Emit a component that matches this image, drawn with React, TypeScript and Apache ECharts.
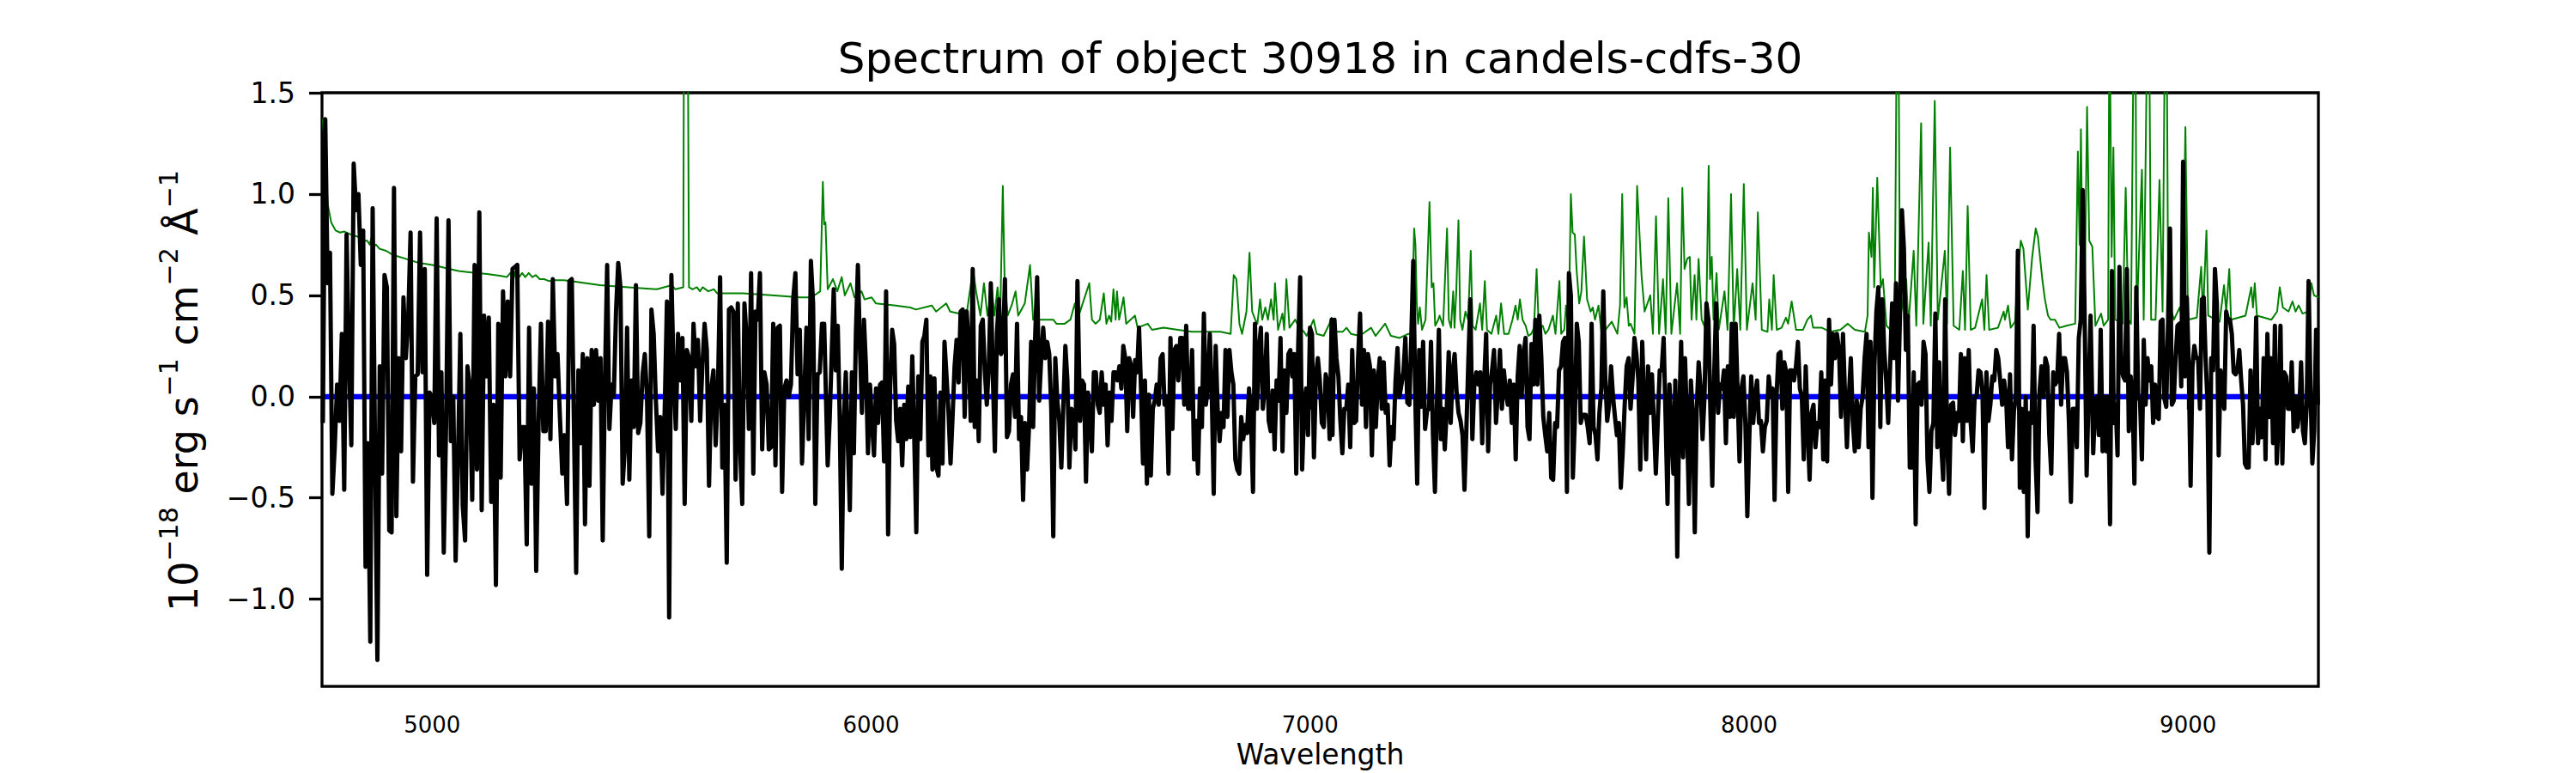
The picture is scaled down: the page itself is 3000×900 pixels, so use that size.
import React, { useEffect, useRef } from "react";
import * as echarts from "echarts";

// ---------------- data ----------------
const TITLE = "Spectrum of object 30918 in candels-cdfs-30";
const X_LABEL = "Wavelength";
const X_MIN = 4749;
const X_MAX = 9297;
const Y_MIN = -1.43;
const Y_MAX = 1.5;
const X_TICKS = [5000, 6000, 7000, 8000, 9000];
const Y_TICKS = [-1.0, -0.5, 0.0, 0.5, 1.0, 1.5];

// wavelength span covered by each flux segment
const SEG_START = [4751, 5328, 5901, 6476, 7051, 7628, 8205, 8784];
const SEG_END = [5318, 5893, 6470, 7049, 7621, 8200, 8778, 9296];

const FLUX_1 = [-0.13, 1.37, 0.56, 0.71, -0.48, -0.25, 0.06, -0.12, 0.31, -0.46, 0.8, 0.19, -0.24, 1.15, 0.92, 1.0, 0.65, 0.82, -0.84, -0.23, -1.21, 0.93, -0.25, -1.3, 0.15, -0.38, 0.6, 0.54, -0.66, -0.67, 1.03, -0.59, 0.19, -0.27, 0.49, 0.19, 0.38, 0.81, -0.42, 0.1, 0.11, 0.81, 0.12, 0.63, -0.88, 0.02, 0.0, -0.13, 0.88, -0.29, 0.12, -0.77, -0.13, 0.87, -0.22, 0.0, -0.81, -0.31, 0.31, -0.54, -0.71, 0.15, 0.05, -0.51, 0.65, -0.36, 0.91, -0.56, 0.4, 0.1, 0.39, -0.52, -0.04, -0.93, 0.36, -0.4, 0.52, 0.1, 0.47, 0.1, 0.63, 0.64, 0.65, -0.31, -0.15, -0.15, -0.73, 0.34, -0.43, 0.04, -0.86, -0.13, 0.36, -0.17, -0.17, 0.37, -0.21, 0.58, 0.1, 0.21, -0.1, -0.38, -0.19, -0.53, 0.57, 0.58];
const FLUX_2 = [-0.87, 0.13, -0.23, 0.21, -0.63, 0.19, -0.44, 0.23, -0.04, 0.23, -0.02, 0.19, -0.71, 0.08, 0.65, -0.16, 0.06, 0.0, 0.42, 0.66, 0.54, -0.43, -0.25, 0.34, -0.41, 0.08, -0.15, 0.55, -0.18, -0.13, 0.11, 0.21, 0.0, -0.69, 0.43, 0.31, -0.02, -0.27, -0.1, -0.48, -0.06, 0.47, -1.09, 0.6, 0.12, -0.16, 0.31, 0.08, 0.29, -0.53, 0.23, 0.19, -0.12, 0.36, 0.15, 0.28, -0.12, 0.15, 0.36, 0.23, -0.44, 0.04, 0.13, -0.24, 0.02, 0.59, -0.35, -0.04, -0.82, 0.43, 0.44, 0.42, -0.41, 0.46, -0.25, -0.53, 0.46, 0.29, -0.16, 0.61, -0.38, 0.42, 0.38, 0.61, -0.26, 0.12, 0.06, -0.26, -0.25, 0.36, -0.34, 0.34, 0.35, -0.47, 0.04, 0.08, 0.0, 0.06, 0.48, 0.61, 0.11, 0.33, -0.33, 0.0, 0.34, -0.21, 0.67, 0.46, -0.53, 0.11, 0.12, 0.36, 0.36];
const FLUX_3 = [-0.34, -0.11, 0.21, 0.53, 0.13, 0.35, -0.12, -0.85, -0.12, 0.12, -0.23, -0.56, 0.12, -0.28, 0.31, 0.65, 0.25, -0.08, 0.38, 0.15, -0.28, 0.06, -0.13, -0.29, 0.04, -0.13, 0.06, 0.07, -0.32, 0.52, -0.68, 0.04, 0.33, 0.26, -0.12, -0.22, -0.06, -0.34, -0.04, -0.21, 0.05, -0.2, 0.2, -0.21, -0.67, 0.1, -0.21, 0.27, 0.3, 0.38, -0.29, 0.1, -0.36, 0.09, -0.35, -0.39, 0.02, -0.33, 0.27, 0.1, -0.08, -0.33, -0.1, 0.15, 0.28, 0.07, 0.42, 0.43, -0.1, 0.42, 0.25, -0.12, 0.63, -0.15, 0.08, -0.22, 0.35, 0.38, 0.13, -0.04, 0.15, 0.56, 0.1, -0.27, 0.31, 0.48, 0.21, 0.23, 0.58, -0.2, -0.17, 0.06, 0.11, -0.1, 0.36, -0.21, -0.1, -0.51, -0.13, -0.36, -0.14, 0.27, -0.15, 0.29, 0.59, -0.02, 0.19, 0.34, 0.19, 0.27, 0.21, -0.06, -0.69, 0.19, -0.02, -0.12, -0.35, -0.04, 0.25, 0.08, -0.35, -0.06, -0.08, -0.26, 0.57];
const FLUX_4 = [-0.12, 0.08, 0.06, -0.42, 0.02, -0.1, -0.27, 0.12, 0.12, -0.04, -0.08, 0.12, -0.04, 0.06, -0.24, 0.02, -0.12, 0.12, 0.12, 0.08, 0.15, 0.04, 0.25, 0.19, -0.17, 0.19, 0.15, -0.1, 0.18, 0.12, 0.34, 0.04, -0.33, 0.08, -0.43, 0.01, -0.39, -0.06, -0.02, 0.06, -0.04, 0.19, 0.21, -0.04, 0.0, -0.38, 0.29, -0.16, 0.23, 0.25, 0.08, 0.29, 0.29, -0.04, 0.35, -0.06, -0.06, 0.23, -0.31, -0.12, -0.38, 0.04, -0.15, 0.41, -0.04, 0.04, 0.31, 0.02, -0.48, 0.25, -0.06, -0.22, -0.08, -0.15, 0.23, -0.1, 0.23, 0.12, 0.06, -0.31, -0.36, -0.38, -0.1, -0.21, -0.14, -0.18, 0.04, -0.12, -0.47, 0.36, -0.06, 0.23, 0.34, -0.06, 0.05, 0.31, -0.12, -0.17, 0.03, -0.26, 0.08, -0.02, 0.29, -0.27, 0.13, -0.08, 0.21, 0.23, 0.1, 0.21, -0.38, 0.25, 0.59, -0.36, -0.06, 0.04, -0.19, 0.34, 0.31, -0.3, 0.1, 0.19, 0.08, -0.13, -0.15, 0.11, 0.06, -0.21, 0.38];
const FLUX_5 = [-0.19, 0.38, 0.19, 0.1, -0.12, -0.28, -0.06, -0.06, 0.06, -0.25, 0.23, -0.13, -0.12, 0.19, 0.41, -0.04, 0.23, -0.15, 0.21, 0.15, -0.29, 0.13, -0.15, 0.08, 0.19, -0.06, 0.17, -0.08, -0.04, -0.34, -0.15, -0.21, 0.08, 0.24, 0.0, 0.06, 0.12, 0.29, -0.03, -0.04, 0.29, 0.67, 0.0, -0.43, 0.23, -0.05, 0.27, -0.16, -0.07, -0.06, 0.27, -0.19, -0.47, -0.04, 0.33, -0.21, -0.06, -0.26, -0.06, 0.22, -0.13, 0.12, 0.21, 0.02, -0.08, -0.12, -0.19, -0.46, -0.15, 0.19, 0.48, -0.21, 0.06, 0.12, 0.06, 0.12, -0.23, 0.08, 0.31, -0.27, 0.06, 0.13, 0.23, -0.13, 0.04, 0.23, -0.06, 0.13, 0.02, -0.04, 0.08, -0.13, 0.06, -0.31, 0.1, 0.25, 0.0, 0.21, 0.29, -0.15, -0.21, 0.26, 0.06, 0.38, 0.06, 0.4, 0.19, -0.1, -0.19, -0.27, -0.08, -0.4, -0.41, -0.13, -0.15, 0.13, 0.15, 0.27, 0.29, -0.47, 0.61, 0.5, -0.4, -0.12, 0.36, 0.27, -0.13, -0.09];
const FLUX_6 = [-0.09, -0.15, -0.23, 0.36, -0.15, -0.19, -0.31, -0.08, 0.04, 0.52, 0.1, -0.12, -0.04, 0.15, 0.0, -0.1, -0.19, -0.13, -0.45, -0.27, -0.04, 0.15, 0.19, -0.06, 0.08, 0.29, 0.21, 0.08, -0.36, 0.27, -0.04, -0.31, 0.15, -0.08, 0.11, -0.13, -0.38, -0.12, 0.13, 0.13, 0.29, -0.1, -0.53, 0.06, -0.15, -0.38, 0.08, -0.79, -0.1, 0.27, -0.3, 0.19, -0.13, -0.53, 0.08, -0.1, -0.67, -0.06, 0.17, 0.04, -0.21, 0.0, 0.46, 0.38, -0.06, -0.44, 0.12, 0.46, -0.08, 0.06, 0.04, 0.13, -0.23, 0.15, -0.1, 0.36, -0.1, 0.36, 0.02, -0.32, 0.04, 0.1, -0.13, -0.59, -0.21, 0.1, -0.13, 0.0, 0.08, -0.13, -0.12, -0.27, -0.15, -0.12, 0.1, 0.0, 0.04, -0.51, 0.0, 0.21, 0.22, -0.06, 0.17, 0.12, -0.47, 0.13, 0.13, 0.08, 0.15, 0.27, 0.04, 0.0, -0.31, 0.15, -0.15, -0.41, -0.08, -0.04, -0.25, -0.13, -0.15, 0.12, -0.31, 0.08, -0.32, 0.38, 0.06, 0.31, 0.19, 0.31];
const FLUX_7 = [0.23, -0.1, 0.31, 0.02, -0.25, 0.0, 0.19, -0.12, -0.27, -0.02, -0.25, -0.06, 0.0, 0.19, 0.31, -0.25, 0.27, -0.5, 0.15, 0.42, 0.54, -0.15, 0.48, 0.23, 0.08, -0.13, 0.15, 0.46, 0.19, 0.56, -0.02, 0.4, 0.92, 0.73, 0.23, 0.4, -0.35, -0.35, 0.12, -0.63, 0.06, 0.07, -0.04, 0.27, 0.21, -0.31, -0.47, -0.17, -0.13, 0.41, -0.25, 0.17, -0.23, -0.41, 0.48, -0.21, -0.48, -0.04, -0.03, -0.19, -0.08, -0.12, 0.21, -0.22, 0.19, -0.12, 0.23, -0.13, -0.27, 0.0, 0.0, 0.13, 0.12, 0.02, -0.55, 0.12, -0.12, -0.04, 0.1, 0.08, 0.23, 0.19, 0.08, -0.04, 0.08, 0.0, -0.25, 0.11, -0.31, -0.07, 0.0, 0.72, -0.45, -0.06, -0.47, 0.0, -0.69, -0.08, -0.13, 0.35, -0.31, -0.57, 0.02, 0.15, 0.0, 0.19, 0.15, -0.19, -0.38, 0.12, 0.06, 0.08, 0.31, -0.04, 0.19, 0.19, 0.12, -0.13, -0.52, -0.06, -0.06, -0.25, 0.29, 0.38, 1.02, 0.38, -0.39, 0.02, 0.4];
const FLUX_8 = [-0.28, -0.04, 0.0, -0.19, 0.33, -0.27, 0.0, -0.27, 0.0, -0.63, 0.62, -0.13, -0.04, -0.29, 0.64, 0.15, 0.1, 0.08, 0.63, -0.17, 0.1, 0.0, -0.43, 0.54, 0.0, -0.02, -0.31, 0.28, -0.04, 0.19, 0.08, 0.15, -0.13, 0.06, -0.1, -0.11, 0.37, 0.38, -0.01, -0.05, 0.38, 0.83, -0.04, -0.02, 0.19, 0.35, 0.36, 0.05, 1.16, 0.1, 0.49, 0.15, -0.44, 0.15, 0.25, 0.19, 0.19, -0.06, 0.48, 0.49, 0.19, -0.02, -0.77, 0.19, 0.13, 0.63, 0.46, -0.29, 0.13, 0.02, -0.06, 0.42, 0.38, 0.38, 0.31, 0.12, 0.11, 0.13, 0.23, 0.08, -0.04, -0.33, -0.35, -0.35, 0.13, -0.23, -0.08, 0.39, -0.23, -0.06, -0.2, 0.19, -0.31, 0.31, -0.1, 0.19, -0.23, 0.35, -0.33, -0.1, 0.35, -0.33, 0.12, 0.1, -0.06, -0.06, 0.17, -0.17, 0.0, -0.15, -0.08, 0.17, -0.17, -0.23, -0.04, 0.57, 0.04, -0.33, -0.17, 0.33, -0.04];
const FLUX_SEGMENTS = [FLUX_1, FLUX_2, FLUX_3, FLUX_4, FLUX_5, FLUX_6, FLUX_7, FLUX_8];

// model (blue) line
const MODEL = [[4751, 0], [9297, 0]];

// noise / sky spectrum (green): [wavelength, value]
const NOISE = [
  [4751, 1.37], [4756, 1.2], [4762, 0.95], [4770, 0.86], [4780, 0.82], [4790, 0.81], [4800, 0.815], [4815, 0.8], [4830, 0.79], [4843, 0.77], [4852, 0.77], [4858, 0.75], [4861, 0.78], [4865, 0.74], [4872, 0.75], [4880, 0.73], [4895, 0.72], [4910, 0.7], [4925, 0.69], [4940, 0.68], [4955, 0.67], [4970, 0.66], [4985, 0.655], [5000, 0.65], [5020, 0.64], [5040, 0.63], [5060, 0.62], [5080, 0.615], [5104, 0.61], [5125, 0.605], [5143, 0.6], [5160, 0.595], [5170, 0.59], [5178, 0.61], [5185, 0.58], [5190, 0.62], [5198, 0.59], [5205, 0.61], [5212, 0.59], [5220, 0.61], [5228, 0.59], [5236, 0.6], [5245, 0.58], [5255, 0.58], [5267, 0.57], [5280, 0.575], [5300, 0.575], [5316, 0.57],
  [5382, 0.55], [5447, 0.54], [5512, 0.53], [5546, 0.55], [5554, 0.53], [5572, 0.54], [5575, 3.0], [5580, 3.0], [5585, 0.54], [5593, 0.53], [5603, 0.54], [5610, 0.52], [5616, 0.54], [5629, 0.52], [5642, 0.53], [5649, 0.51], [5708, 0.51], [5773, 0.5], [5838, 0.49], [5864, 0.49], [5884, 0.52], [5890, 1.06], [5893, 0.85], [5896, 0.86], [5901, 0.53], [5913, 0.58], [5923, 0.52], [5933, 0.59], [5940, 0.5], [5953, 0.56], [5962, 0.49], [5978, 0.52], [5985, 0.48], [6001, 0.49], [6011, 0.46], [6056, 0.45], [6089, 0.44], [6102, 0.43], [6138, 0.45], [6148, 0.42], [6171, 0.46], [6180, 0.42], [6200, 0.41], [6219, 0.43], [6232, 0.63], [6239, 0.52], [6249, 0.4], [6257, 0.56], [6265, 0.4], [6275, 0.53], [6281, 0.4], [6288, 0.54], [6294, 0.39], [6300, 1.04], [6304, 0.58], [6311, 0.4], [6320, 0.45], [6329, 0.52], [6335, 0.4], [6350, 0.46], [6362, 0.65], [6369, 0.38], [6389, 0.38], [6415, 0.38], [6422, 0.36], [6441, 0.36], [6454, 0.38], [6464, 0.46], [6470, 0.38],
  [6497, 0.56], [6503, 0.38], [6511, 0.36], [6521, 0.38], [6530, 0.51], [6536, 0.36], [6542, 0.4], [6547, 0.37], [6552, 0.53], [6557, 0.38], [6560, 0.52], [6565, 0.38], [6575, 0.49], [6581, 0.36], [6601, 0.4], [6607, 0.34], [6630, 0.36], [6640, 0.33], [6666, 0.34], [6699, 0.33], [6731, 0.32], [6764, 0.32], [6796, 0.32], [6819, 0.31], [6826, 0.6], [6832, 0.58], [6839, 0.36], [6845, 0.31], [6855, 0.42], [6862, 0.71], [6868, 0.42], [6875, 0.38], [6880, 0.36], [6886, 0.48], [6891, 0.38], [6898, 0.44], [6904, 0.38], [6911, 0.48], [6917, 0.38], [6920, 0.56], [6927, 0.33], [6937, 0.41], [6941, 0.33], [6946, 0.58], [6953, 0.34], [6966, 0.38], [6973, 0.35], [6986, 0.32], [6992, 0.3], [7008, 0.38], [7015, 0.31], [7031, 0.3], [7044, 0.36], [7049, 0.39], [7057, 0.32],
  [7074, 0.32], [7083, 0.34], [7093, 0.31], [7113, 0.3], [7139, 0.34], [7149, 0.3], [7171, 0.36], [7184, 0.3], [7204, 0.29], [7224, 0.31], [7231, 0.31], [7237, 0.83], [7240, 0.75], [7243, 0.46], [7246, 0.36], [7250, 0.44], [7255, 0.33], [7263, 0.38], [7272, 0.96], [7277, 0.54], [7281, 0.56], [7285, 0.35], [7292, 0.38], [7295, 0.4], [7303, 0.35], [7312, 0.83], [7316, 0.38], [7321, 0.34], [7326, 0.52], [7329, 0.34], [7333, 0.52], [7338, 0.87], [7342, 0.38], [7347, 0.33], [7354, 0.42], [7360, 0.38], [7366, 0.72], [7370, 0.35], [7377, 0.33], [7387, 0.46], [7392, 0.33], [7398, 0.57], [7403, 0.33], [7413, 0.31], [7424, 0.4], [7429, 0.31], [7435, 0.46], [7442, 0.31], [7452, 0.31], [7461, 0.38], [7468, 0.45], [7473, 0.38], [7478, 0.48], [7484, 0.38], [7491, 0.35], [7497, 0.3], [7504, 0.31], [7510, 0.34], [7516, 0.63], [7521, 0.33], [7530, 0.35], [7536, 0.31], [7543, 0.33], [7553, 0.4], [7559, 0.31], [7568, 0.57], [7572, 0.31], [7579, 0.33], [7583, 0.45], [7589, 0.33], [7594, 1.0], [7598, 0.81], [7603, 0.8], [7607, 0.63], [7613, 0.46], [7618, 0.52], [7624, 0.79],
  [7631, 0.48], [7639, 0.42], [7644, 0.44], [7649, 0.38], [7657, 0.45], [7664, 0.31], [7673, 0.33], [7687, 0.37], [7700, 0.31], [7706, 0.45], [7711, 1.0], [7716, 0.44], [7721, 0.49], [7726, 0.35], [7730, 0.36], [7739, 0.31], [7745, 1.04], [7755, 0.6], [7762, 0.42], [7775, 0.5], [7781, 0.31], [7788, 0.89], [7795, 0.31], [7804, 0.58], [7810, 0.31], [7816, 0.98], [7823, 0.31], [7836, 0.56], [7843, 0.31], [7848, 1.03], [7853, 0.63], [7859, 0.68], [7865, 0.69], [7869, 0.38], [7876, 0.6], [7880, 0.38], [7885, 0.68], [7892, 0.38], [7902, 0.33], [7908, 1.14], [7911, 0.58], [7915, 0.69], [7919, 0.38], [7926, 0.61], [7931, 0.33], [7944, 0.52], [7951, 0.33], [7959, 1.0], [7965, 0.33], [7973, 0.63], [7980, 0.33], [7988, 1.05], [7995, 0.33], [8008, 0.56], [8015, 0.38], [8020, 0.91], [8029, 0.33], [8042, 0.32], [8046, 0.48], [8052, 0.33], [8056, 0.6], [8063, 0.33], [8074, 0.34], [8084, 0.39], [8089, 0.36], [8097, 0.47], [8107, 0.33], [8123, 0.33], [8133, 0.38], [8141, 0.4], [8146, 0.34], [8166, 0.34], [8185, 0.32], [8208, 0.33],
  [8225, 0.36], [8241, 0.33], [8264, 0.32], [8270, 0.4], [8273, 0.81], [8279, 0.69], [8282, 1.03], [8285, 0.54], [8292, 1.08], [8300, 0.54], [8305, 0.58], [8313, 0.35], [8322, 0.33], [8332, 0.46], [8337, 2.0], [8340, 2.0], [8344, 0.38], [8358, 0.58], [8363, 0.35], [8375, 0.72], [8381, 0.35], [8392, 1.35], [8397, 0.36], [8409, 0.76], [8414, 0.35], [8423, 1.46], [8430, 0.38], [8446, 0.72], [8451, 0.36], [8458, 1.23], [8466, 0.35], [8479, 0.33], [8487, 0.62], [8492, 0.33], [8498, 0.94], [8505, 0.33], [8515, 0.34], [8531, 0.48], [8536, 0.33], [8541, 0.6], [8547, 0.33], [8567, 0.34], [8580, 0.42], [8583, 0.38], [8590, 0.45], [8596, 0.34], [8606, 0.37], [8612, 0.6], [8619, 0.77], [8625, 0.73], [8635, 0.43], [8645, 0.69], [8653, 0.83], [8658, 0.79], [8668, 0.58], [8674, 0.48], [8681, 0.4], [8687, 0.38], [8697, 0.38], [8707, 0.34], [8723, 0.35], [8743, 0.36], [8749, 1.21], [8753, 0.75], [8756, 1.32], [8760, 0.58], [8764, 0.4], [8770, 1.43], [8775, 0.77], [8782, 0.74],
  [8789, 0.35], [8802, 0.41], [8808, 0.35], [8818, 0.38], [8821, 2.0], [8826, 0.69], [8830, 1.23], [8834, 0.38], [8851, 0.36], [8858, 1.03], [8864, 0.38], [8870, 0.36], [8877, 2.0], [8880, 2.0], [8883, 0.38], [8895, 1.12], [8899, 0.38], [8908, 2.0], [8911, 2.0], [8916, 0.38], [8926, 0.38], [8935, 1.07], [8942, 0.42], [8948, 2.0], [8951, 2.0], [8955, 0.38], [8961, 0.43], [8968, 0.38], [8981, 0.44], [8987, 0.38], [8994, 1.33], [9000, 0.38], [9020, 0.39], [9030, 0.64], [9034, 0.4], [9042, 0.82], [9046, 0.4], [9072, 0.37], [9082, 0.55], [9087, 0.42], [9094, 0.63], [9098, 0.38], [9131, 0.4], [9144, 0.54], [9148, 0.44], [9152, 0.56], [9157, 0.4], [9190, 0.38], [9203, 0.42], [9209, 0.54], [9216, 0.44], [9229, 0.42], [9238, 0.47], [9245, 0.42], [9252, 0.45], [9261, 0.41], [9274, 0.42], [9281, 0.56], [9287, 0.5], [9297, 0.49],
];

// ---------------- chart ----------------
const FONT = "DejaVu Sans";

function buildFlux(): number[][] {
  const out: number[][] = [];
  FLUX_SEGMENTS.forEach((vals, k) => {
    const a = SEG_START[k];
    const b = SEG_END[k];
    vals.forEach((v, i) => {
      out.push([a + ((b - a) * i) / (vals.length - 1), v]);
    });
  });
  return out;
}

function fmtY(v: number): string {
  const s = Math.abs(v).toFixed(1);
  return v < 0 ? "\u2212" + s : s;
}

export default function App() {
  const ref = useRef<HTMLDivElement>(null);

  useEffect(() => {
    document.body.style.margin = "0";
    if (!ref.current) return;
    const chart = echarts.init(ref.current, undefined, { renderer: "svg" });
    const flux = buildFlux();

    const option: any = {
      animation: false,
      backgroundColor: "#ffffff",
      grid: {
        left: 375,
        right: 300,
        top: 108,
        bottom: 97,
        show: true,
        borderColor: "#000000",
        borderWidth: 3.3,
        backgroundColor: "transparent",
      },
      xAxis: {
        type: "value",
        min: X_MIN,
        max: X_MAX,
        axisLine: { show: false },
        splitLine: { show: false },
        axisTick: {
          show: true,
          inside: false,
          length: 15,
          customValues: X_TICKS,
          lineStyle: { color: "#000000", width: 3.3 },
        },
        axisLabel: {
          customValues: X_TICKS,
          fontSize: 26,
          fontFamily: FONT,
          color: "#000000",
          margin: 32,
          formatter: (v: number) => String(v),
        },
        name: X_LABEL,
        nameLocation: "middle",
        nameGap: 59,
        nameTextStyle: { fontSize: 33, fontFamily: FONT, color: "#000000" },
      },
      yAxis: {
        type: "value",
        min: Y_MIN,
        max: Y_MAX,
        axisLine: { show: false },
        splitLine: { show: false },
        axisTick: {
          show: true,
          inside: false,
          length: 15,
          customValues: Y_TICKS,
          lineStyle: { color: "#000000", width: 3.3 },
        },
        axisLabel: {
          customValues: Y_TICKS,
          fontSize: 33,
          fontFamily: FONT,
          color: "#000000",
          margin: 31,
          formatter: (v: number) => fmtY(v),
        },
      },
      graphic: [
        {
          type: "text",
          x: 1537.5,
          y: 68,
          style: {
            text: TITLE,
            fontSize: 50,
            fontFamily: FONT,
            fill: "#000000",
            textAlign: "center",
            textVerticalAlign: "middle",
          },
        },
        {
          type: "text",
          x: 209,
          y: 455,
          rotation: Math.PI / 2,
          style: {
            text: "{b|10}{s|\u221218}{b| erg s}{s|\u22121}{b| cm}{s|\u22122}{b| \u00c5}{s|\u22121}",
            textAlign: "center",
            textVerticalAlign: "middle",
            fill: "#000000",
            fontFamily: FONT,
            rich: {
              b: { fontSize: 46, fontFamily: FONT, fill: "#000000", lineHeight: 56, verticalAlign: "bottom" },
              s: { fontSize: 30, fontFamily: FONT, fill: "#000000", lineHeight: 30, verticalAlign: "top" },
            },
          },
        },
      ],
      series: [
        {
          type: "line",
          data: NOISE,
          showSymbol: false,
          symbol: "none",
          clip: true,
          silent: true,
          z: 1,
          lineStyle: { color: "#008000", width: 2, join: "round" },
        },
        {
          type: "line",
          data: MODEL,
          showSymbol: false,
          symbol: "none",
          clip: true,
          silent: true,
          z: 2,
          lineStyle: { color: "#0000ff", width: 6.3 },
        },
        {
          type: "line",
          data: flux,
          showSymbol: false,
          symbol: "none",
          clip: true,
          silent: true,
          z: 3,
          lineStyle: { color: "#000000", width: 5, join: "round", cap: "butt" },
        },
      ],
    };
    chart.setOption(option);
    return () => {
      chart.dispose();
    };
  }, []);

  return <div ref={ref} style={{ width: 3000, height: 900 }} />;
}
